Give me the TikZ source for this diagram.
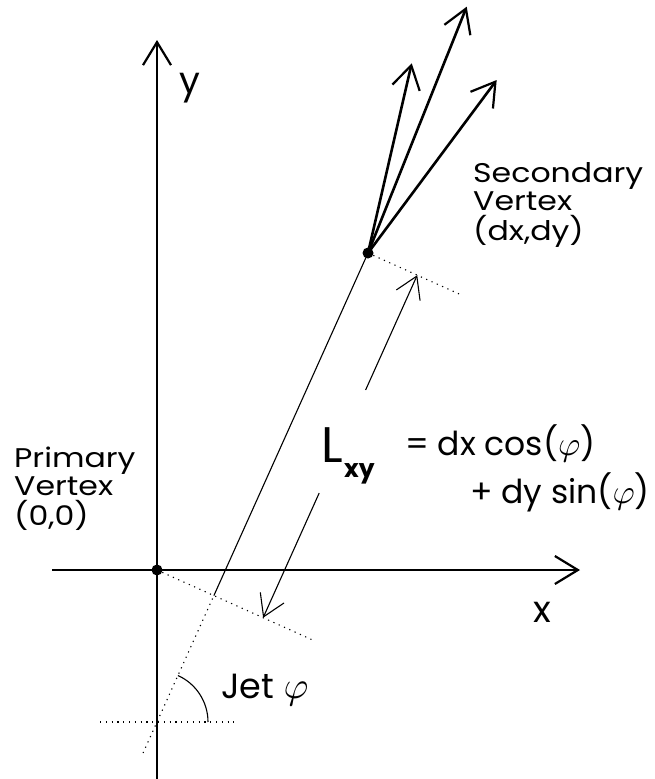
\documentclass[tikz,border=0pt]{standalone}
\usepackage{fontspec}
\setmainfont{Poppins}
\usetikzlibrary{arrows.meta,calc}
\newcommand{\myphi}[1]{\scalebox{#1}{\fontsize{10}{12}\selectfont$\varphi$}}
\newcommand{\widetxt}[1]{\scalebox{1.17}[1]{\fontsize{27}{29}\selectfont #1}}
\tikzset{
  axis/.style={line width=2.6pt, -{Straight Barb[length=23pt,width=28pt,line width=2.2pt]}},
  jetarrow/.style={line width=2.6pt, -{Straight Barb[length=23pt,width=28pt,line width=2.2pt]}},
  thinline/.style={line width=1.1pt},
  dots/.style={line width=1.1pt, dash pattern=on 1.2pt off 4.6pt},
  larrow/.style={line width=1.1pt, -{Straight Barb[length=21pt,width=26pt,line width=1.1pt]}},
  vdot/.style={circle, fill=black, inner sep=0pt, minimum size=11pt},
  lbl/.style={inner sep=0pt, anchor=base west},
}
\begin{document}
\begin{tikzpicture}[x=1pt,y=-1pt]
\useasboundingbox (0,0) rectangle (655,779);
% key points
\coordinate (O) at (157,570);
\coordinate (S) at (368,253);
\coordinate (J0) at (157,722);
\coordinate (Jbot) at (143.05,753.0);
\coordinate (F) at (213.87,595.58);
\coordinate (Oend) at (312.0,639.7);
\coordinate (Send) at (459.2,294.0);
\coordinate (TipU) at (417.25,275.16);
\coordinate (TailU) at (365.6,390);
\coordinate (TipL) at (263.12,617.74);
\coordinate (TailL) at (319.2,493);
\coordinate (Ytop) at (157,40);
\coordinate (Ybot) at (157,779);
\coordinate (Xl) at (52,570);
\coordinate (Xr) at (580,570);
\coordinate (Hl) at (100,722);
\coordinate (Hr) at (234,722);
\coordinate (Arc0) at (208,722);
\coordinate (T1) at (411.7,63.3);
\coordinate (T2) at (466.7,6.7);
\coordinate (T3) at (496.7,80);
% axes
\draw[axis] (Ybot) -- (Ytop);
\draw[axis] (Xl) -- (Xr);
% dotted guides
\draw[dots] (Jbot) -- (F);
\draw[dots] (Hl) -- (Hr);
\draw[dots] (O) -- (Oend);
\draw[dots] (S) -- (Send);
% jet line
\draw[thinline] (F) -- (S);
% angle arc
\draw[thinline] (Arc0) arc[start angle=0, end angle=-65.8, radius=51];
% Lxy arrows
\draw[larrow] (TailU) -- (TipU);
\draw[larrow] (TailL) -- (TipL);
% jet tracks
\draw[jetarrow] (S) -- (T1);
\draw[jetarrow] (S) -- (T2);
\draw[jetarrow] (S) -- (T3);
% vertices
\node[vdot] (pv) at (O) {};
\node[vdot] (sv) at (S) {};
% labels
\node[lbl] (ylab) at (179,93) {\fontsize{37}{40}\selectfont y};
\node[lbl] (xlab) at (533,622) {\fontsize{37}{40}\selectfont x};
\node[lbl] (p1) at (14,467) {\widetxt{Primary}};
\node[lbl] (p2) at (14,495) {\widetxt{Vertex}};
\node[lbl] (p3) at (14,525) {\widetxt{(0,0)}};
\node[lbl] (s1) at (473,182) {\widetxt{Secondary}};
\node[lbl] (s2) at (473,210) {\widetxt{Vertex}};
\node[lbl] (s3) at (473,240) {\widetxt{(dx,dy)}};
\node[lbl] (jet) at (221,698) {\fontsize{35}{40}\selectfont Jet \myphi{3.8}};
\node[lbl] (L) at (321,462) {\fontsize{50}{60}\selectfont L};
\node[lbl] (xy) at (344,477) {\fontsize{25}{28}\selectfont\bfseries xy};
\node[lbl] (f1) at (405,455) {\fontsize{33}{36}\selectfont = dx cos(\myphi{3.4})};
\node[lbl] (f2) at (470,503) {\fontsize{33}{36}\selectfont + dy sin(\myphi{3.4})};
\end{tikzpicture}
\end{document}
